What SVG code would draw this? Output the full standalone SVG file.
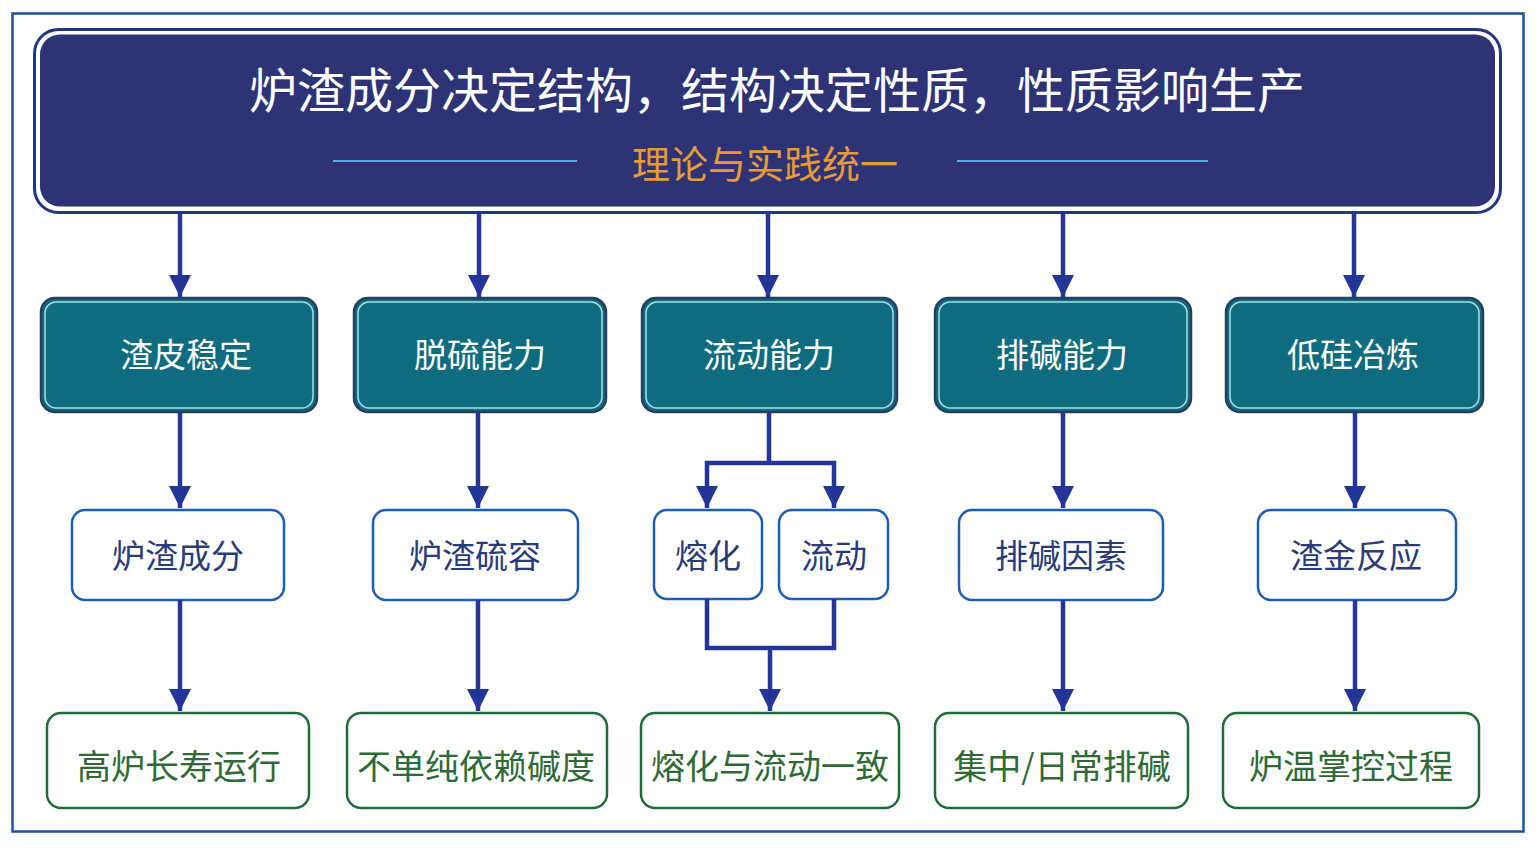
<svg xmlns="http://www.w3.org/2000/svg" width="1537" height="848" viewBox="0 0 1537 848">
<defs>
<style>
text{font-family:"Noto Sans CJK SC","Noto Sans",sans-serif;text-anchor:middle;dominant-baseline:central}
.teal-o{fill:#0e6c7e;stroke:#263f5c;stroke-width:2.5}
.teal-i{fill:none;stroke:#a9dbe5;stroke-width:1.5}
.tt{fill:#ffffff;font-size:33px}
.mid{fill:#ffffff;stroke:#1f5cb8;stroke-width:2.5}
.mt{fill:#2b3a78;font-size:33px}
.bot{fill:#ffffff;stroke:#1f6b3c;stroke-width:2.5}
.bt{fill:#2f6a36;font-size:34px}
.conn{fill:none;stroke:#24359a;stroke-width:4.5}
.conn-a{fill:none;stroke:#24359a;stroke-width:4.5;marker-end:url(#ah)}
</style>
<marker id="ah" markerUnits="userSpaceOnUse" markerWidth="22" markerHeight="22" viewBox="0 0 20 20" refX="20" refY="10" orient="auto">
<path d="M0,0 L20,10 L0,20 z" fill="#24359a"/>
</marker>
</defs>
<rect width="1537" height="848" fill="#ffffff"/>
<rect x="12.5" y="13.5" width="1511" height="818" fill="none" stroke="#1f4fa0" stroke-width="2.5"/>

<g id="header">
<rect x="34.5" y="29.5" width="1466" height="183" rx="24" fill="#ffffff" stroke="#24348a" stroke-width="3"/>
<rect x="40" y="34.5" width="1455" height="172" rx="20" fill="#2e3376"/>
<text x="777" y="87" fill="#ffffff" style="font-size:48px">炉渣成分决定结构，结构决定性质，性质影响生产</text>
<line x1="333" y1="161" x2="577" y2="161" stroke="#5fa8e8" stroke-width="2"/>
<line x1="957" y1="161" x2="1208" y2="161" stroke="#5fa8e8" stroke-width="2"/>
<text x="765" y="161" fill="#e69a3a" style="font-size:38px">理论与实践统一</text>
</g>

<g id="t1"><rect class="teal-o" x="41" y="298" width="276" height="114" rx="14"/><rect class="teal-i" x="45" y="302" width="268" height="106" rx="11"/><text class="tt" x="186" y="353">渣皮稳定</text></g>
<g id="t2"><rect class="teal-o" x="354" y="298" width="252" height="114" rx="14"/><rect class="teal-i" x="358" y="302" width="244" height="106" rx="11"/><text class="tt" x="480" y="353">脱硫能力</text></g>
<g id="t3"><rect class="teal-o" x="642" y="298" width="255" height="114" rx="14"/><rect class="teal-i" x="646" y="302" width="247" height="106" rx="11"/><text class="tt" x="769" y="353">流动能力</text></g>
<g id="t4"><rect class="teal-o" x="935" y="298" width="256" height="114" rx="14"/><rect class="teal-i" x="939" y="302" width="248" height="106" rx="11"/><text class="tt" x="1062" y="353">排碱能力</text></g>
<g id="t5"><rect class="teal-o" x="1226" y="298" width="257" height="114" rx="14"/><rect class="teal-i" x="1230" y="302" width="249" height="106" rx="11"/><text class="tt" x="1353" y="353">低硅冶炼</text></g>

<g id="m1"><rect class="mid" x="72" y="510" width="212" height="90" rx="13"/><text class="mt" x="178" y="554">炉渣成分</text></g>
<g id="m2"><rect class="mid" x="373" y="510" width="205" height="90" rx="13"/><text class="mt" x="475" y="554">炉渣硫容</text></g>
<g id="m3a"><rect class="mid" x="654" y="510" width="108" height="89" rx="13"/><text class="mt" x="708" y="554">熔化</text></g>
<g id="m3b"><rect class="mid" x="779" y="510" width="109" height="89" rx="13"/><text class="mt" x="834" y="554">流动</text></g>
<g id="m4"><rect class="mid" x="959" y="510" width="204" height="90" rx="13"/><text class="mt" x="1061" y="554">排碱因素</text></g>
<g id="m5"><rect class="mid" x="1258" y="510" width="198" height="90" rx="13"/><text class="mt" x="1356" y="554">渣金反应</text></g>

<g id="b1"><rect class="bot" x="47" y="713" width="262" height="95" rx="14"/><text class="bt" x="179" y="764">高炉长寿运行</text></g>
<g id="b2"><rect class="bot" x="347" y="713" width="260" height="95" rx="14"/><text class="bt" x="476" y="764">不单纯依赖碱度</text></g>
<g id="b3"><rect class="bot" x="641" y="713" width="258" height="95" rx="14"/><text class="bt" x="770" y="764">熔化与流动一致</text></g>
<g id="b4"><rect class="bot" x="935" y="713" width="253" height="95" rx="14"/><text class="bt" x="1062" y="764">集中/日常排碱</text></g>
<g id="b5"><rect class="bot" x="1223" y="713" width="256" height="95" rx="14"/><text class="bt" x="1351" y="764">炉温掌控过程</text></g>

<g id="connectors">
<path class="conn-a" d="M180,214 V297"/>
<path class="conn-a" d="M479,214 V297"/>
<path class="conn-a" d="M768,214 V297"/>
<path class="conn-a" d="M1063,214 V297"/>
<path class="conn-a" d="M1354,214 V297"/>
<path class="conn-a" d="M180,412 V508"/>
<path class="conn-a" d="M478,412 V508"/>
<path class="conn" d="M769,412 V463"/>
<path class="conn-a" d="M769,463 H707 V508"/>
<path class="conn-a" d="M769,463 H834 V508"/>
<path class="conn-a" d="M1063,412 V508"/>
<path class="conn-a" d="M1355,412 V508"/>
<path class="conn" d="M707,599 V648 H834 V599"/>
<path class="conn-a" d="M770,648 V711"/>
<path class="conn-a" d="M180,600 V711"/>
<path class="conn-a" d="M478,600 V711"/>
<path class="conn-a" d="M1063,600 V711"/>
<path class="conn-a" d="M1355,600 V711"/>
</g>
</svg>
